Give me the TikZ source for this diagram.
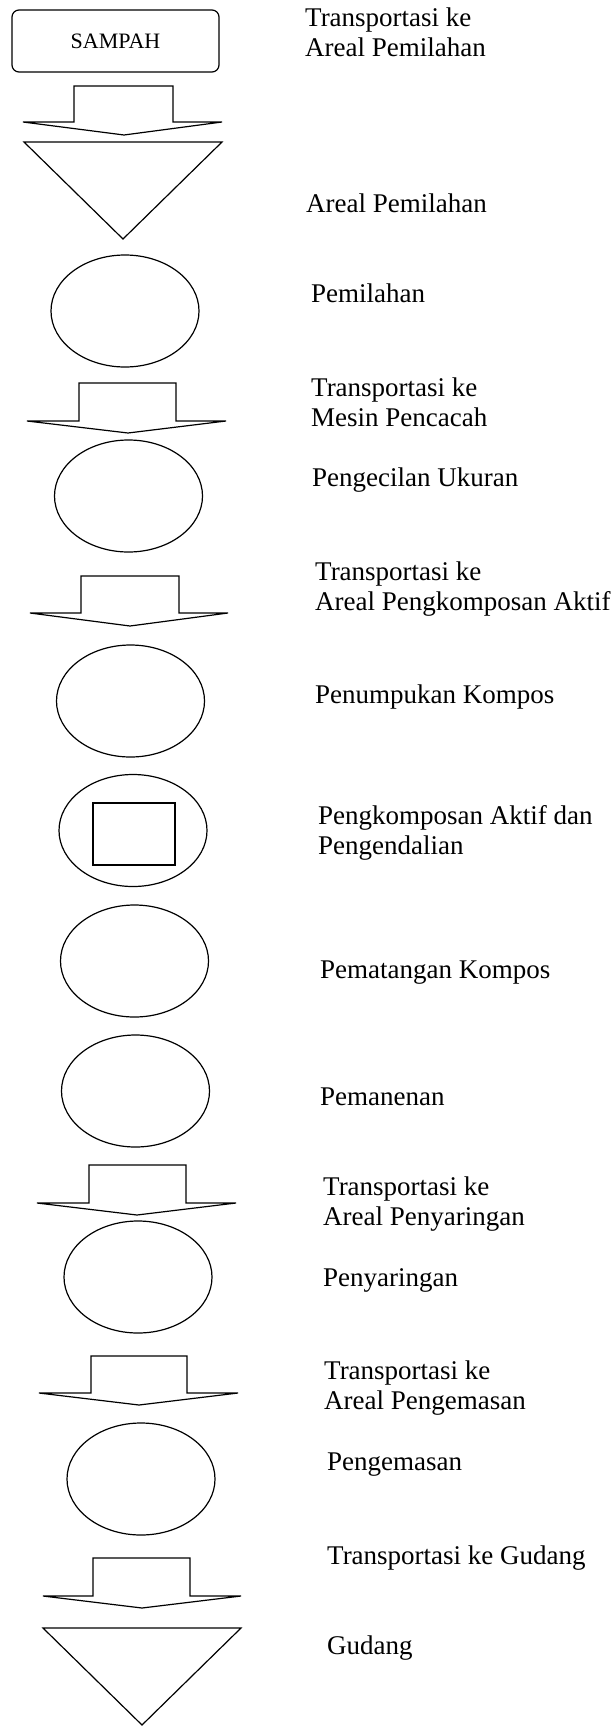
\documentclass[tikz,border=0pt]{standalone}
\usepackage{fontspec}
\setmainfont{Liberation Serif}
\usetikzlibrary{shapes.geometric}
\tikzset{
  shapeline/.style={draw=black, line width=1.2pt, line join=miter},
  proc/.style={shapeline, ellipse, minimum width=148pt, minimum height=112pt, inner sep=0pt},
  lbl/.style={anchor=west, align=left, inner sep=0pt, font=\fontsize{27}{30}\selectfont},
  startbox/.style={shapeline, rounded corners=7pt, minimum width=207pt, minimum height=62pt, inner sep=0pt, font=\fontsize{22}{24}\selectfont}
}
% #1 stem left, #2 stem right, #3 top, #4 wing y, #5 wing left, #6 wing right, #7 tip x, #8 tip y
\newcommand{\blockarr}[8]{\draw[shapeline] (#1,#3) -- (#2,#3) -- (#2,#4) -- (#6,#4) -- (#7,#8) -- (#5,#4) -- (#1,#4) -- cycle;}
\begin{document}
\begin{tikzpicture}[x=1pt,y=-1pt]
\useasboundingbox (0,0) rectangle (614,1727);

% start box
\node[startbox] (sampah) at (115.5,41) {SAMPAH};

% block arrows (transport)
\blockarr{74}{173}{86}{122}{23}{222}{124}{135}
\blockarr{79}{176}{383}{421}{27}{226}{128}{433}
\blockarr{81}{179}{576}{613}{30}{228}{130}{626}
\blockarr{89}{186}{1165}{1203}{37}{236}{137}{1215}
\blockarr{91}{187}{1356}{1393}{39}{238}{139}{1405}
\blockarr{93}{190}{1558}{1596}{43}{241}{142}{1608}

% storage triangles
\draw[shapeline] (24,142) -- (222,142) -- (123,239) -- cycle;
\draw[shapeline] (43,1628) -- (241,1628) -- (142,1725) -- cycle;

% operations
\node[proc] (e1) at (125,311) {};
\node[proc] (e2) at (128.5,496) {};
\node[proc] (e3) at (130.5,701) {};
\node[proc] (e4) at (133,830.5) {};
\node[shapeline, minimum width=82pt, minimum height=62pt, inner sep=0pt] (sq) at (134,834) {};
\node[proc] (e5) at (134.5,961) {};
\node[proc] (e6) at (135.5,1091) {};
\node[proc] (e7) at (138,1277) {};
\node[proc] (e8) at (141,1479) {};

% labels
\node[lbl] (t1) at (305,32) {Transportasi ke\\Areal Pemilahan};
\node[lbl] (t2) at (306,203) {Areal Pemilahan};
\node[lbl] (t3) at (311,293) {Pemilahan};
\node[lbl] (t4) at (311,402) {Transportasi ke\\Mesin Pencacah};
\node[lbl] (t5) at (312,480) {Pengecilan Ukuran};
\node[lbl] (t6) at (315,589) {Transportasi ke\\Areal Pengkomposan Aktif};
\node[lbl] (t7) at (315,697) {Penumpukan Kompos};
\node[lbl] (t8) at (318,833) {Pengkomposan Aktif dan\\Pengendalian};
\node[lbl] (t9) at (320,973) {Pematangan Kompos};
\node[lbl] (t10) at (320,1097) {Pemanenan};
\node[lbl] (t11) at (323,1204) {Transportasi ke\\Areal Penyaringan};
\node[lbl] (t12) at (323,1280) {Penyaringan};
\node[lbl] (t13) at (324,1388) {Transportasi ke\\Areal Pengemasan};
\node[lbl] (t14) at (327,1465) {Pengemasan};
\node[lbl] (t15) at (327,1558) {Transportasi ke Gudang};
\node[lbl] (t16) at (327,1648) {Gudang};
\end{tikzpicture}
\end{document}
